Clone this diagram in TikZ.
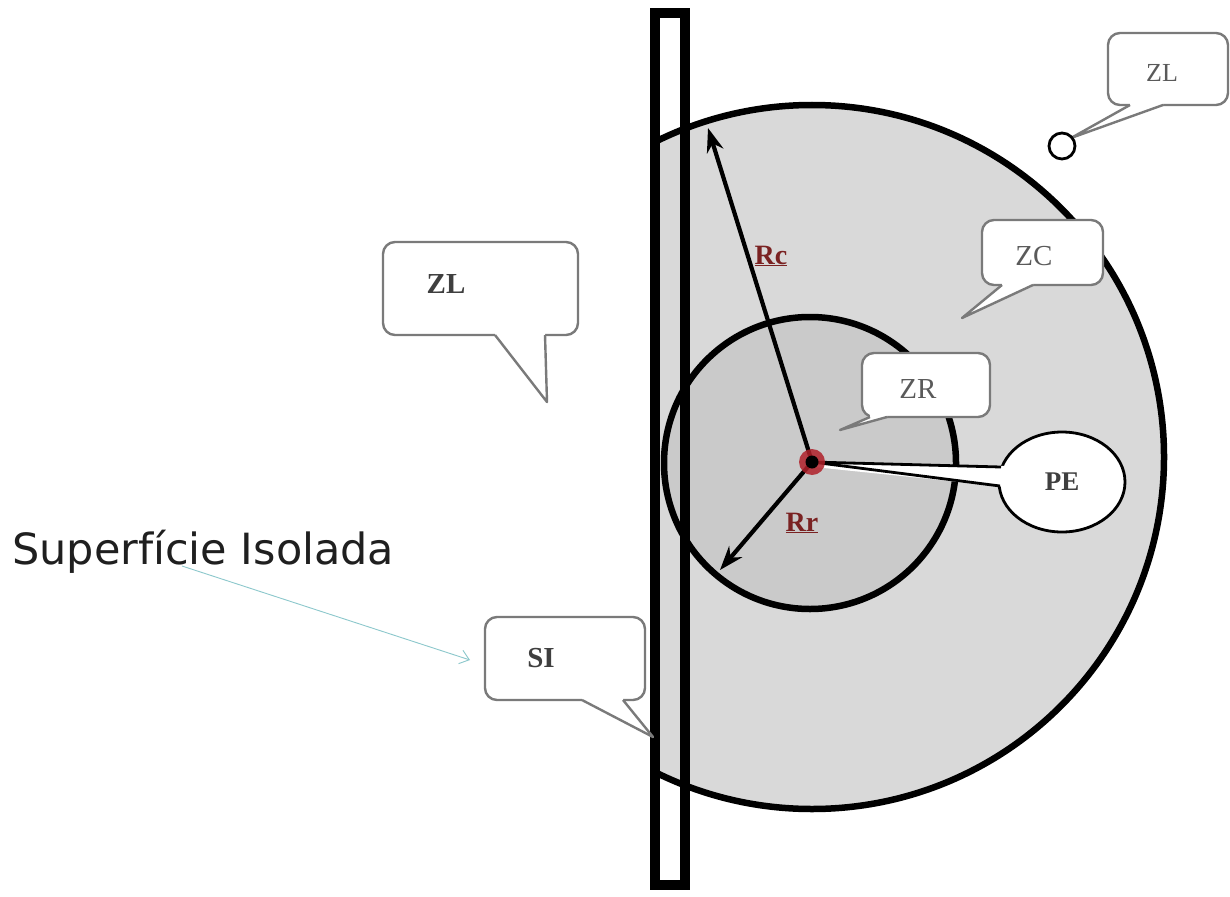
\documentclass[tikz,border=0pt]{standalone}
\usepackage{fontspec}
\setmainfont{Liberation Serif}
\newfontfamily\supfont{DejaVu Sans}
\usetikzlibrary{arrows.meta}
\definecolor{zcgray}{HTML}{D9D9D9}
\definecolor{zrgray}{HTML}{CACACA}
\definecolor{cogray}{HTML}{7A7A7A}
\definecolor{txtgray}{HTML}{5A5A5A}
\definecolor{rlab}{HTML}{7A2222}
\definecolor{siteal}{HTML}{8CC8CC}
\definecolor{dotred}{HTML}{B0202A}
\newcommand\bubble[8]{%
  \draw[co] (#1,#2) rectangle (#3,#4);
  \fill[white] (#5,#4-3) -- (#6,#4-3) -- (#6,#4) -- (#7,#8) -- (#5,#4) -- cycle;
  \draw[cotail] (#5,#4) -- (#7,#8) -- (#6,#4);
}
\begin{document}
\begin{tikzpicture}[x=1pt,y=-1pt,
  co/.style={draw=cogray, line width=2.4pt, fill=white, rounded corners=12pt},
  cotail/.style={draw=cogray, line width=2.4pt, line join=round},
  cotext/.style={text=txtgray, font=\fontsize{29}{31}\selectfont},
  cobold/.style={text=txtgray!70!black, font=\bfseries\fontsize{28}{30}\selectfont},
  rad/.style={line width=4.2pt, -{Stealth[length=24pt,width=17pt]}},
  rlabel/.style={text=rlab, font=\bfseries\fontsize{28}{30}\selectfont},
  zone/.style={line width=6.5pt}]
\useasboundingbox (0,0) rectangle (1230,896);
\fill[white] (0,0) rectangle (1230,896);
% big circle ZC
\coordinate (c) at (812,462);
\begin{scope}
  \clip (650,0) rectangle (1230,896);
  \draw[zone, fill=zcgray] (812,457) circle[radius=352pt];
\end{scope}
% inner circle ZR
\draw[zone, fill=zrgray] (810,463) circle[radius=146pt];
% bar
\draw[line width=10pt] (655,13) rectangle (685,885);
% radii
\coordinate (rcend) at (708,128);
\coordinate (rrend) at (720,570);
\draw[rad] (c) -- (rcend);
\draw[rad] (c) -- (rrend);
\node[rlabel] (rc) at (771,256) {\underline{Rc}};
\node[rlabel] (rr) at (802,523) {\underline{Rr}};
% callouts
\bubble{383}{242}{578}{335}{495}{545}{547}{402}
\node[cobold, font=\bfseries\fontsize{29}{31}\selectfont] (zlleft) at (446,284) {ZL};
\bubble{982}{220}{1103}{285}{1002}{1033}{962}{318}
\node[cotext] (zc) at (1034,256) {ZC};
\bubble{862}{353}{990}{417}{870}{887}{840}{430}
\node[cotext] (zr) at (918,389) {ZR};
\bubble{1108}{33}{1228}{105}{1130}{1163}{1071}{138}
\node[cotext, font=\fontsize{26}{28}\selectfont] (zltop) at (1162,73) {ZL};
\node[draw, line width=2.8pt, circle, minimum size=26pt, inner sep=0pt, fill=white] (lp) at (1062,146) {};
\bubble{485}{617}{645}{700}{582}{623}{653}{737}
\node[cobold, font=\bfseries\fontsize{29}{31}\selectfont] (si) at (541,658) {SI};
% PE
\draw[line width=2.8pt, fill=white] (1062,482) ellipse [x radius=63pt, y radius=50pt];
\fill[white] (814,464) -- (1008,466) -- (1008,487) -- (814,467) -- cycle;
\draw[line width=2.8pt] (c) -- (1001,467);
\draw[line width=2.8pt] (c) -- (1000,486);
\node[cobold, font=\bfseries\fontsize{27}{29}\selectfont] (pe) at (1062,482) {PE};
% point
\fill[dotred, opacity=0.85] (c) circle[radius=13pt];
\fill[black] (c) circle[radius=6.5pt];
% Superficie Isolada
\node[anchor=base west, inner sep=0pt, text=black!88, font=\supfont\fontsize{43}{50}\selectfont] (sup) at (12,564) {Superfície Isolada};
\coordinate (supstart) at (182,566);
\draw[siteal, line width=0.9pt, -{Straight Barb[length=9pt,width=14pt]}] (supstart) -- (470,660);
\end{tikzpicture}
\end{document}
